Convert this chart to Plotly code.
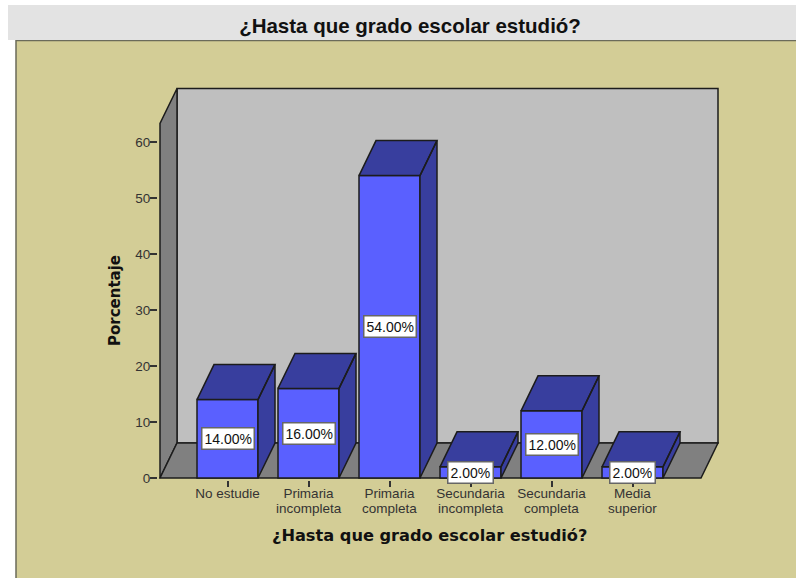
import plotly.graph_objects as go

categories_top = ["No estudie", "Primaria", "Primaria", "Secundaria", "Secundaria", "Media"]
categories_bottom = ["", "incompleta", "completa", "incompleta", "completa", "superior"]
percent = [14, 16, 54, 2, 12, 2]
percent_labels = ["14.00%", "16.00%", "54.00%", "2.00%", "12.00%", "2.00%"]
y_ticks = [0, 10, 20, 30, 40, 50, 60]

W, H = 796, 578
L, R, T, B = 158, 76, 86, 98
PX_X, PX_Y = 81.0, 5.6          # pixels per category / per percent
X0, Y0 = 227.5, 478.0           # pixel of category 0 / of 0 %
DX, DY = 17 / PX_X, 35 / PX_Y   # 3D depth in data units
BW = 61 / PX_X
FL, FR = (160 - X0) / PX_X, (701 - X0) / PX_X   # floor front, left/right
YT = (Y0 - 123.5) / PX_Y

xr = [(L - X0) / PX_X, (W - R - X0) / PX_X]
yr = [(Y0 - (H - B)) / PX_Y, (Y0 - T) / PX_Y]
px = lambda p: (p - L) / (W - L - R)
py = lambda p: (H - B - p) / (H - T - B)

EDGE = "#1c1c1c"
FRONT, DARK = "#5A60FF", "#383E9E"


def poly(points):
    return "M" + " L".join(f"{a},{b}" for a, b in points) + " Z"


shapes = [
    dict(type="rect", xref="paper", yref="paper", x0=px(16), x1=px(810), y0=py(600), y1=py(40.5),
         fillcolor="#D3CD96", line=dict(color="#6b6b5a", width=1.5), layer="below"),
    dict(type="rect", xref="paper", yref="paper", x0=px(8), x1=px(796), y0=py(40), y1=py(5),
         fillcolor="#E3E3E3", line=dict(width=0), layer="below"),
    dict(type="path", xref="x", yref="y", layer="below", fillcolor="#BFBFBF",
         line=dict(color=EDGE, width=1.5),
         path=poly([(FL + DX, DY), (FR + DX, DY), (FR + DX, YT + DY), (FL + DX, YT + DY)])),
    dict(type="path", xref="x", yref="y", layer="below", fillcolor="#808080",
         line=dict(color=EDGE, width=1.5),
         path=poly([(FL, 0), (FL + DX, DY), (FL + DX, YT + DY), (FL, YT)])),
    dict(type="path", xref="x", yref="y", layer="below", fillcolor="#808080",
         line=dict(color=EDGE, width=1.5),
         path=poly([(FL, 0), (FR, 0), (FR + DX, DY), (FL + DX, DY)])),
]

xs, ys = [], []
for i, v in enumerate(percent):
    a, b = i - BW / 2, i + BW / 2
    xs += [a, b, b + DX, a + DX, a, None, b, b + DX, b + DX, b, b, None]
    ys += [v, v, v + DY, v + DY, v, None, 0, DY, v + DY, v, 0, None]

fig = go.Figure()
fig.add_trace(go.Bar(x=list(range(len(percent))), y=percent, width=BW,
                     marker=dict(color=FRONT, line=dict(color=EDGE, width=1.5)),
                     hoverinfo="skip", showlegend=False))
fig.add_trace(go.Scatter(x=xs, y=ys, mode="lines", fill="toself", fillcolor=DARK,
                         line=dict(color=EDGE, width=1.5), hoverinfo="skip", showlegend=False))

SANS = "Liberation Sans"
ann = []
for i, (v, t) in enumerate(zip(percent, percent_labels)):
    ann.append(dict(x=i, y=v / 2, xref="x", yref="y", text=t, showarrow=False,
                    font=dict(family=SANS, size=14, color="#111"),
                    bgcolor="white", bordercolor="#666", borderwidth=1.5, borderpad=2))
for i, t in enumerate(categories_bottom):
    if t:
        ann.append(dict(x=i, y=py(508), xref="x", yref="paper", text=t, showarrow=False,
                        yanchor="middle", font=dict(family=SANS, size=13.5, color="#333")))
ann.append(dict(x=px(429.5), y=py(535.5), xref="paper", yref="paper", showarrow=False,
                text="<b>¿Hasta que grado escolar estudió?</b>", yanchor="middle",
                font=dict(family="DejaVu Sans", size=16.2, color="#111")))
ann.append(dict(x=px(114.5), y=py(300.5), xref="paper", yref="paper", showarrow=False,
                text="<b>Porcentaje</b>", textangle=-90, xanchor="center", yanchor="middle",
                font=dict(family="DejaVu Sans", size=15, color="#111")))

fig.update_layout(
    width=W, height=H, margin=dict(l=L, r=R, t=T, b=B, pad=0),
    paper_bgcolor="white", plot_bgcolor="rgba(0,0,0,0)", showlegend=False,
    title=dict(text="<b>¿Hasta que grado escolar estudió?</b>", x=410 / W, xanchor="center",
               y=1 - 26 / H, yanchor="middle", font=dict(family=SANS, size=20.5, color="#111")),
    xaxis=dict(range=xr, tickmode="array", tickvals=list(range(len(percent))), ticktext=categories_top,
               ticks="outside", ticklen=6, tickwidth=1.5, tickcolor="#333", showgrid=False,
               zeroline=False, showline=False, tickangle=0, ticklabelstandoff=-5,
               tickfont=dict(family=SANS, size=13.5, color="#333")),
    yaxis=dict(range=yr, tickmode="array", tickvals=y_ticks, ticks="outside", ticklen=7, tickwidth=1.5,
               tickcolor="#333", showgrid=False, zeroline=False, showline=False, ticklabelstandoff=-3,
               tickfont=dict(family=SANS, size=13.5, color="#333")),
    shapes=shapes, annotations=ann,
)
fig.write_html("out.html", config=dict(displayModeBar=False),
               post_script="document.body.style.margin='0';document.documentElement.style.overflow='hidden';")
